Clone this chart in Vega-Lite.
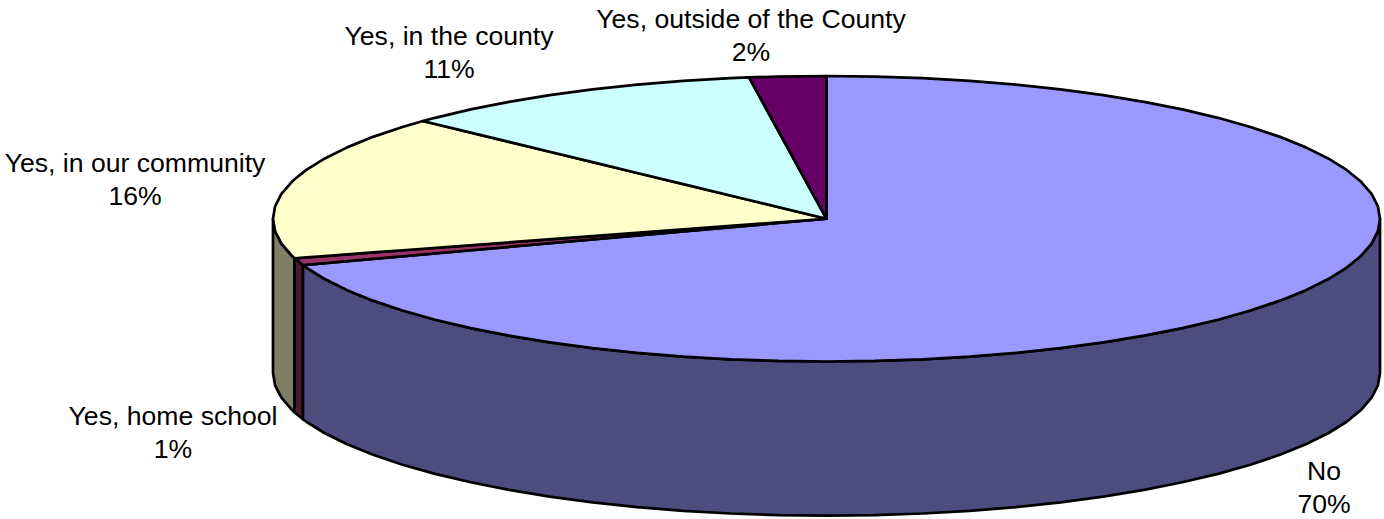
{"$schema":"https://vega.github.io/schema/vega-lite/v6.json","width":1384,"height":519,"padding":0,"autosize":{"type":"none"},"background":"white","view":{"stroke":null},
"datasets":{
"side":[
{"slice":"Yes, in our community","x":-1,"y":0,"y2":-1.08},{"slice":"Yes, in our community","x":-0.9962,"y":-0.0872,"y2":-1.1672},{"slice":"Yes, in our community","x":-0.9848,"y":-0.1736,"y2":-1.2536},{"slice":"Yes, in our community","x":-0.9659,"y":-0.2588,"y2":-1.3388},{"slice":"Yes, in our community","x":-0.961,"y":-0.277,"y2":-1.357},
{"slice":"Yes, home school","x":-0.961,"y":-0.277,"y2":-1.357},{"slice":"Yes, home school","x":-0.9458,"y":-0.3247,"y2":-1.4047},
{"slice":"No","x":-0.9458,"y":-0.3247,"y2":-1.4047},{"slice":"No","x":-0.9397,"y":-0.342,"y2":-1.422},{"slice":"No","x":-0.9063,"y":-0.4226,"y2":-1.5026},{"slice":"No","x":-0.866,"y":-0.5,"y2":-1.58},{"slice":"No","x":-0.8192,"y":-0.5736,"y2":-1.6536},{"slice":"No","x":-0.766,"y":-0.6428,"y2":-1.7228},{"slice":"No","x":-0.7071,"y":-0.7071,"y2":-1.7871},{"slice":"No","x":-0.6428,"y":-0.766,"y2":-1.846},{"slice":"No","x":-0.5736,"y":-0.8192,"y2":-1.8992},{"slice":"No","x":-0.5,"y":-0.866,"y2":-1.946},{"slice":"No","x":-0.4226,"y":-0.9063,"y2":-1.9863},{"slice":"No","x":-0.342,"y":-0.9397,"y2":-2.0197},{"slice":"No","x":-0.2588,"y":-0.9659,"y2":-2.0459},{"slice":"No","x":-0.1736,"y":-0.9848,"y2":-2.0648},{"slice":"No","x":-0.0872,"y":-0.9962,"y2":-2.0762},{"slice":"No","x":0,"y":-1,"y2":-2.08},{"slice":"No","x":0.0872,"y":-0.9962,"y2":-2.0762},{"slice":"No","x":0.1736,"y":-0.9848,"y2":-2.0648},{"slice":"No","x":0.2588,"y":-0.9659,"y2":-2.0459},{"slice":"No","x":0.342,"y":-0.9397,"y2":-2.0197},{"slice":"No","x":0.4226,"y":-0.9063,"y2":-1.9863},{"slice":"No","x":0.5,"y":-0.866,"y2":-1.946},{"slice":"No","x":0.5736,"y":-0.8192,"y2":-1.8992},{"slice":"No","x":0.6428,"y":-0.766,"y2":-1.846},{"slice":"No","x":0.7071,"y":-0.7071,"y2":-1.7871},{"slice":"No","x":0.766,"y":-0.6428,"y2":-1.7228},{"slice":"No","x":0.8192,"y":-0.5736,"y2":-1.6536},{"slice":"No","x":0.866,"y":-0.5,"y2":-1.58},{"slice":"No","x":0.9063,"y":-0.4226,"y2":-1.5026},{"slice":"No","x":0.9397,"y":-0.342,"y2":-1.422},{"slice":"No","x":0.9659,"y":-0.2588,"y2":-1.3388},{"slice":"No","x":0.9848,"y":-0.1736,"y2":-1.2536},{"slice":"No","x":0.9962,"y":-0.0872,"y2":-1.1672},{"slice":"No","x":1,"y":0,"y2":-1.08}
],
"top":[
{"slice":"No","x":-0.9458,"y":-0.3247,"y2":-0.3247},{"slice":"No","x":-0.9397,"y":-0.3226,"y2":-0.342},{"slice":"No","x":-0.9063,"y":-0.3111,"y2":-0.4226},{"slice":"No","x":-0.866,"y":-0.2973,"y2":-0.5},{"slice":"No","x":-0.8192,"y":-0.2812,"y2":-0.5736},{"slice":"No","x":-0.766,"y":-0.263,"y2":-0.6428},{"slice":"No","x":-0.7071,"y":-0.2427,"y2":-0.7071},{"slice":"No","x":-0.6428,"y":-0.2207,"y2":-0.766},{"slice":"No","x":-0.5736,"y":-0.1969,"y2":-0.8192},{"slice":"No","x":-0.5,"y":-0.1717,"y2":-0.866},{"slice":"No","x":-0.4226,"y":-0.1451,"y2":-0.9063},{"slice":"No","x":-0.342,"y":-0.1174,"y2":-0.9397},{"slice":"No","x":-0.2588,"y":-0.0888,"y2":-0.9659},{"slice":"No","x":-0.1736,"y":-0.0596,"y2":-0.9848},{"slice":"No","x":-0.0872,"y":-0.0299,"y2":-0.9962},{"slice":"No","x":0,"y":0,"y2":-1},{"slice":"No","x":0,"y":1,"y2":-1},{"slice":"No","x":0.0872,"y":0.9962,"y2":-0.9962},{"slice":"No","x":0.1736,"y":0.9848,"y2":-0.9848},{"slice":"No","x":0.2588,"y":0.9659,"y2":-0.9659},{"slice":"No","x":0.342,"y":0.9397,"y2":-0.9397},{"slice":"No","x":0.4226,"y":0.9063,"y2":-0.9063},{"slice":"No","x":0.5,"y":0.866,"y2":-0.866},{"slice":"No","x":0.5736,"y":0.8192,"y2":-0.8192},{"slice":"No","x":0.6428,"y":0.766,"y2":-0.766},{"slice":"No","x":0.7071,"y":0.7071,"y2":-0.7071},{"slice":"No","x":0.766,"y":0.6428,"y2":-0.6428},{"slice":"No","x":0.8192,"y":0.5736,"y2":-0.5736},{"slice":"No","x":0.866,"y":0.5,"y2":-0.5},{"slice":"No","x":0.9063,"y":0.4226,"y2":-0.4226},{"slice":"No","x":0.9397,"y":0.342,"y2":-0.342},{"slice":"No","x":0.9659,"y":0.2588,"y2":-0.2588},{"slice":"No","x":0.9848,"y":0.1736,"y2":-0.1736},{"slice":"No","x":0.9962,"y":0.0872,"y2":-0.0872},{"slice":"No","x":1,"y":0,"y2":0},
{"slice":"Yes, home school","x":-0.961,"y":-0.277,"y2":-0.277},{"slice":"Yes, home school","x":-0.9458,"y":-0.2726,"y2":-0.3247},{"slice":"Yes, home school","x":0,"y":0,"y2":0},
{"slice":"Yes, in our community","x":-1,"y":0,"y2":0},{"slice":"Yes, in our community","x":-0.9962,"y":0.0872,"y2":-0.0872},{"slice":"Yes, in our community","x":-0.9848,"y":0.1736,"y2":-0.1736},{"slice":"Yes, in our community","x":-0.9659,"y":0.2588,"y2":-0.2588},{"slice":"Yes, in our community","x":-0.961,"y":0.2765,"y2":-0.277},{"slice":"Yes, in our community","x":-0.9397,"y":0.342,"y2":-0.2708},{"slice":"Yes, in our community","x":-0.9063,"y":0.4226,"y2":-0.2612},{"slice":"Yes, in our community","x":-0.866,"y":0.5,"y2":-0.2496},{"slice":"Yes, in our community","x":-0.8192,"y":0.5736,"y2":-0.2361},{"slice":"Yes, in our community","x":-0.766,"y":0.6428,"y2":-0.2208},{"slice":"Yes, in our community","x":-0.729,"y":0.6845,"y2":-0.2101},{"slice":"Yes, in our community","x":0,"y":0,"y2":0},
{"slice":"Yes, in the county","x":-0.729,"y":0.6845,"y2":0.684},{"slice":"Yes, in the county","x":-0.7071,"y":0.7071,"y2":0.6635},{"slice":"Yes, in the county","x":-0.6428,"y":0.766,"y2":0.6031},{"slice":"Yes, in the county","x":-0.5736,"y":0.8192,"y2":0.5382},{"slice":"Yes, in the county","x":-0.5,"y":0.866,"y2":0.4692},{"slice":"Yes, in the county","x":-0.4226,"y":0.9063,"y2":0.3965},{"slice":"Yes, in the county","x":-0.342,"y":0.9397,"y2":0.3209},{"slice":"Yes, in the county","x":-0.2588,"y":0.9659,"y2":0.2428},{"slice":"Yes, in the county","x":-0.1736,"y":0.9848,"y2":0.1629},{"slice":"Yes, in the county","x":-0.14,"y":0.9902,"y2":0.1314},{"slice":"Yes, in the county","x":0,"y":0,"y2":0},
{"slice":"Yes, outside of the County","x":-0.14,"y":0.9902,"y2":0.9902},{"slice":"Yes, outside of the County","x":-0.0872,"y":0.9962,"y2":0.6168},{"slice":"Yes, outside of the County","x":0,"y":1,"y2":0}
],
"labels":[
{"label":"Yes, outside of the County\n2%","x":-0.1364,"y":1.3923},
{"label":"Yes, in the county\n11%","x":-0.682,"y":1.2767},
{"label":"Yes, in our community\n16%","x":-1.2493,"y":0.387},
{"label":"Yes, home school\n1%","x":-1.1806,"y":-1.3853},
{"label":"No\n70%","x":0.8988,"y":-1.7706}
]},
"layer":[
{"data":{"name":"side"},"mark":{"type":"area","stroke":"black","strokeWidth":2.7,"strokeJoin":"round","opacity":1},
"encoding":{"x":{"field":"x","type":"quantitative","scale":{"domain":[-1.4932,1.0072],"nice":false,"zero":false},"axis":null},"y":{"field":"y","type":"quantitative","scale":{"domain":[-2.1033,1.5324],"nice":false,"zero":false},"axis":null,"stack":null},"y2":{"field":"y2"},
"color":{"field":"slice","type":"nominal","legend":null,"scale":{"domain":["No","Yes, home school","Yes, in our community"],"range":["#4C4C7F","#4C1933","#7F7F66"]}}}},
{"data":{"name":"top"},"mark":{"type":"area","stroke":"black","strokeWidth":2.7,"strokeJoin":"round","opacity":1},
"encoding":{"x":{"field":"x","type":"quantitative","scale":{"domain":[-1.4932,1.0072],"nice":false,"zero":false},"axis":null},"y":{"field":"y","type":"quantitative","scale":{"domain":[-2.1033,1.5324],"nice":false,"zero":false},"axis":null,"stack":null},"y2":{"field":"y2"},
"color":{"field":"slice","type":"nominal","legend":null,"scale":{"domain":["No","Yes, home school","Yes, in our community","Yes, in the county","Yes, outside of the County"],"range":["#9999FF","#993366","#FFFFCC","#CCFFFF","#660066"]}}}},
{"data":{"name":"labels"},"mark":{"type":"text","font":"Liberation Sans","fontSize":26.6,"lineBreak":"\n","lineHeight":33,"align":"center","baseline":"middle","color":"black"},
"encoding":{"x":{"field":"x","type":"quantitative","scale":{"domain":[-1.4932,1.0072],"nice":false,"zero":false},"axis":null},"y":{"field":"y","type":"quantitative","scale":{"domain":[-2.1033,1.5324],"nice":false,"zero":false},"axis":null},"text":{"field":"label"}}}
],
"resolve":{"scale":{"color":"independent"}}}
